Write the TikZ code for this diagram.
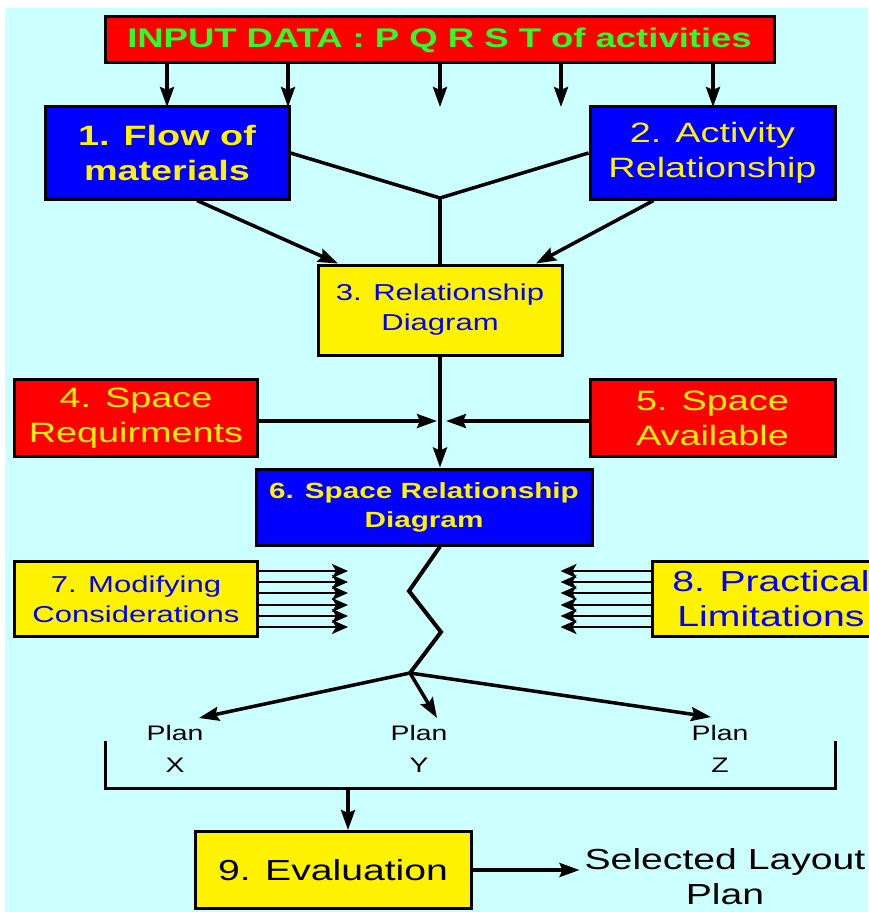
\documentclass[tikz,border=0pt]{standalone}
\usepackage{fontspec}
\setmainfont{Liberation Sans}[FakeStretch=1.35]
\usetikzlibrary{arrows.meta}
\definecolor{sky}{RGB}{204,255,255}
\definecolor{lime}{RGB}{40,255,40}

\begin{document}
\begin{tikzpicture}[x=1pt,y=-1pt,line width=3.5pt,>={Stealth[length=20pt,width=14pt,inset=3pt]},
  box/.style={draw,line width=3pt,align=center,inner sep=0pt},
  red box/.style={box,fill=red,text=yellow},
  blue box/.style={box,fill=blue,text=yellow},
  yellow box/.style={box,fill=yellow,text=blue},
  big/.style={font=\fontsize{28}{35}\selectfont},
  mid/.style={font=\fontsize{23}{30}\selectfont},
  plan/.style={font=\fontsize{21}{32}\selectfont,align=center,inner sep=0pt},
  small arrow/.style={->,line width=2.5pt,>={Stealth[length=16pt,width=14pt,inset=4pt]}}]
  \useasboundingbox (0,0) rectangle (868,912);
  \fill[sky] (5,8) rectangle (868,912);

  \node[red box,minimum width=669pt,minimum height=46pt,text=lime,font={\fontsize{27}{32}\selectfont\bfseries}] (data) at (439.5,40) {INPUT DATA : P Q R S T of activities};
  \node[blue box,minimum width=244pt,minimum height=92pt,font={\fontsize{28}{35}\selectfont\bfseries}] (1) at (167,153) {1. Flow of\\materials};
  \node[blue box,big,minimum width=245pt,minimum height=92pt] (2) at (712.5,153) {2. Activity\\Relationship};
  \node[yellow box,mid,minimum width=244pt,minimum height=90pt] (3) at (440,310) {3. Relationship\\Diagram};
  \node[red box,big,minimum width=243pt,minimum height=77pt] (4) at (136,418) {4. Space\\Requirments};
  \node[red box,big,minimum width=245pt,minimum height=77pt] (5) at (712.5,418) {5. Space\\Available};
  \node[blue box,minimum width=336pt,minimum height=76pt,font={\fontsize{22}{29}\selectfont\bfseries}] (6) at (424,507) {6. Space Relationship\\Diagram};
  \node[yellow box,mid,minimum width=243pt,minimum height=75pt] (7) at (136,599) {7. Modifying\\Considerations};
  \node[yellow box,minimum width=238pt,minimum height=75pt,font=\fontsize{29}{35}\selectfont] (8) at (771,599) {8. Practical\\Limitations};
  \node[yellow box,minimum width=276pt,minimum height=77pt,text=black,font=\fontsize{29}{35}\selectfont] (9) at (333,870) {9. Evaluation};
  \node[align=center,font=\fontsize{29}{35}\selectfont] (sel) at (725,877) {Selected Layout\\Plan};
  \node[plan] (px) at (175,749) {Plan\\X};
  \node[plan] (py) at (419,749) {Plan\\Y};
  \node[plan] (pz) at (720,749) {Plan\\Z};

  \coordinate (a1) at (167,107);
  \coordinate (a2) at (288,107);
  \coordinate (a3) at (440,107);
  \coordinate (a4) at (561,107);
  \coordinate (a5) at (713,107);
  \coordinate (j) at (440,198);
  \coordinate (x) at (440,421);
  \coordinate (z1) at (409,591);
  \coordinate (z2) at (441,632);
  \coordinate (z3) at (410,673);
  \coordinate (tx) at (199,718);
  \coordinate (ty) at (437,718);
  \coordinate (tz) at (711,717);
  \coordinate (bl) at (105,788);
  \coordinate (br) at (835,788);

  % inputs
  \foreach \a in {a1,a2,a3,a4,a5}
    \draw[->] (data.south -| \a) -- (\a);
  \draw (1.east) -- (j) -- (2.west);
  \draw (j) -- (3.north);
  \draw[->] ([xshift=30pt]1.south) -- ([xshift=-102pt]3.north);
  \draw[->] ([xshift=-59pt]2.south) -- ([xshift=96pt]3.north);

  % space
  \draw[->] (3.south) -- (3.south |- 6.north);
  \draw[->] (4.east |- x) -- ([xshift=-3pt]x);
  \draw[->] (5.west |- x) -- ([xshift=6pt]x);

  % modifying and limitations
  \foreach \dy in {-28,-17,-6,6,17,28} {
    \draw[small arrow] ([yshift=\dy pt]7.east) -- ++(89,0);
    \draw[small arrow] ([yshift=\dy pt]8.west) -- ++(-90,0);
  }
  \draw[line width=4pt] (3.south |- 6.south) -- (z1) -- (z2) -- (z3);
  \draw[->] (z3) -- (tx);
  \draw[->] (z3) -- (ty);
  \draw[->] (z3) -- (tz);

  % plans
  \draw[line width=3pt] ([yshift=47pt]bl) -- (bl) -- (br) -- ([yshift=47pt]br);
  \draw[->] (9.north |- bl) ++(15,0) -- ([xshift=15pt]9.north);
  \draw[->] (9.east) -- (9.east -| sel.west);
\end{tikzpicture}
\end{document}
